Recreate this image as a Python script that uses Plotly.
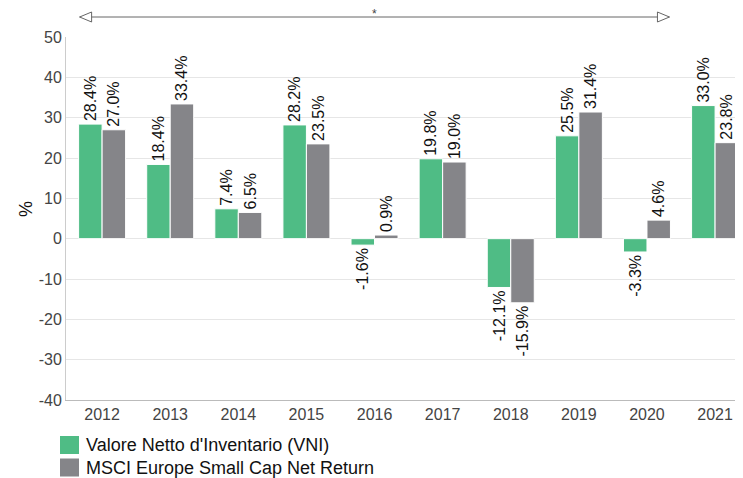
import plotly.graph_objects as go

years = ["2012", "2013", "2014", "2015", "2016", "2017", "2018", "2019", "2020", "2021"]
vni = [28.4, 18.4, 7.4, 28.2, -1.6, 19.8, -12.1, 25.5, -3.3, 33.0]
msci = [27.0, 33.4, 6.5, 23.5, 0.9, 19.0, -15.9, 31.4, 4.6, 23.8]
names = ["Valore Netto d'Inventario (VNI)", "MSCI Europe Small Cap Net Return"]
colors = ["#4fbc85", "#858589"]
yticks = [50, 40, 30, 20, 10, 0, -10, -20, -30, -40]
ytick_labels = ["50", "40", "30", "20", "10", "0", "-10", "-20", "-30", "-40"]

FONT = "Liberation Sans, Arial, sans-serif"

# figure pixel geometry (page has an 8px body margin)
W, H = 735, 470
L, T, B, R = 58, 29, 78, 0
PW, PH = W - L - R, H - T - B


def px(xf):
    return (xf - L) / PW


def py(yf):
    return (H - B - yf) / PH


fig = go.Figure()
for vals, name, col in [(vni, names[0], colors[0]), (msci, names[1], colors[1])]:
    fig.add_trace(go.Bar(
        x=years, y=vals, name=name, marker=dict(color=col, line=dict(color="white", width=1)),
        text=[f"{v:.1f}%" for v in vals], textposition="outside", textangle=-90,
        textfont=dict(size=16, color="#111", family=FONT), cliponaxis=False,
        constraintext="none", showlegend=False,
    ))

fig.update_layout(
    width=W, height=H, barmode="group", bargap=0.31, bargroupgap=0.0,
    plot_bgcolor="white", paper_bgcolor="white",
    margin=dict(l=L, r=R, t=T, b=B, autoexpand=False),
    font=dict(family=FONT, size=16, color="#555"),
    xaxis=dict(range=[-0.53, 9.41], showline=True, linecolor="#bbb", linewidth=1,
               ticks="", tickfont=dict(size=16, color="#444"), automargin=False),
    yaxis=dict(range=[-40, 50], tickvals=yticks, ticktext=ytick_labels,
               showgrid=True, gridcolor="#e6e6e6",
               zeroline=False, showline=True, linecolor="#ccc", linewidth=1,
               tickfont=dict(size=16, color="#444"), automargin=False),
)

# y-axis title
fig.add_annotation(x=px(6), y=py(201), xref="paper", yref="paper", text="%", textangle=-90,
                   showarrow=False, font=dict(size=18, color="#111"))

# range arrow with open triangle heads
x0p, x1p = -0.33, 8.33
ya = py(9)
fig.add_shape(type="line", xref="x", yref="paper", x0=x0p, x1=x1p, y0=ya, y1=ya,
              line=dict(color="#666", width=1))
dy = 5 / PH
dx = 12 / 68.1
fig.add_shape(type="path", xref="x", yref="paper",
              path=f"M {x0p} {ya} L {x0p + dx} {ya + dy} L {x0p + dx} {ya - dy} Z",
              fillcolor="white", line=dict(color="#666", width=1))
fig.add_shape(type="path", xref="x", yref="paper",
              path=f"M {x1p} {ya} L {x1p - dx} {ya + dy} L {x1p - dx} {ya - dy} Z",
              fillcolor="white", line=dict(color="#666", width=1))
fig.add_annotation(x=(x0p + x1p) / 2, y=py(-3), xref="x", yref="paper", yanchor="top",
                   text="*", showarrow=False, font=dict(size=12, color="#444"))

# legend
for i, (name, col) in enumerate(zip(names, colors)):
    yc = 437 + i * 22.5
    fig.add_shape(type="rect", xref="paper", yref="paper",
                  x0=px(52), x1=px(71), y0=py(yc + 9), y1=py(yc - 9),
                  fillcolor=col, line=dict(width=0))
    fig.add_annotation(x=px(76), y=py(yc), xref="paper", yref="paper",
                       text=name, showarrow=False, xanchor="left", yanchor="middle",
                       font=dict(size=18, color="#111"))

fig.write_html("out.html")
